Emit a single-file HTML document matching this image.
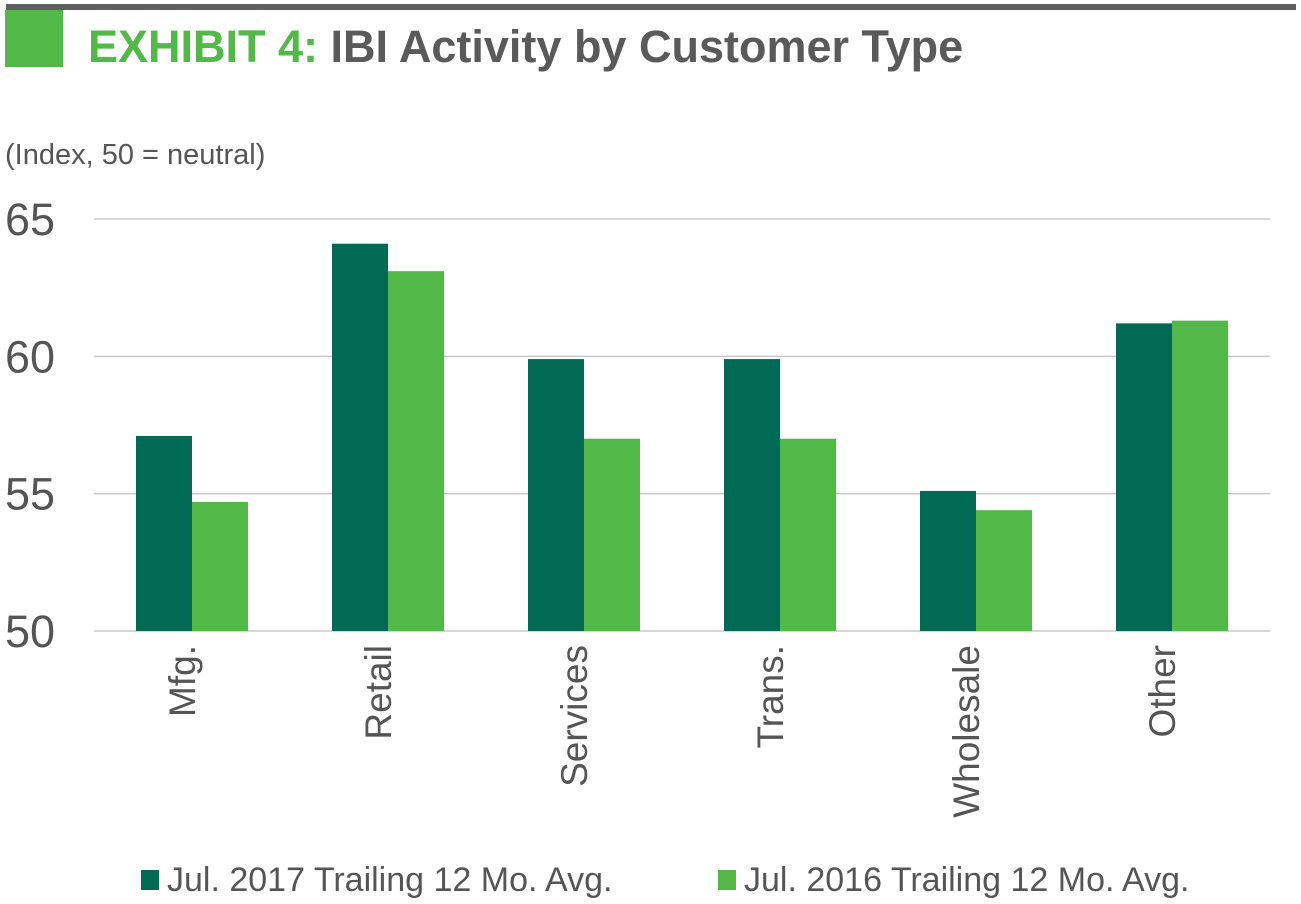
<!DOCTYPE html>
<html><head><meta charset="utf-8"><style>
html,body{margin:0;padding:0;background:#fff;}
svg{display:block;font-family:"Liberation Sans",Arial,sans-serif;}
</style></head><body>
<svg width="1301" height="904" viewBox="0 0 1301 904">
<rect x="6" y="4" width="1290" height="6" fill="#5f5f5f"/>
<rect x="5" y="10" width="58" height="57" fill="#52b848"/>
<text x="88" y="62" font-size="45" font-weight="bold" fill="#5a5a5a"><tspan fill="#52b848">EXHIBIT 4:</tspan> IBI Activity by Customer Type</text>
<text x="5" y="164" font-size="29" fill="#555">(Index, 50 = neutral)</text>
<g id="grid"></g>
<g id="bars"></g>
<g id="xlabels"></g>
<g>
<rect x="141" y="870" width="18" height="20" fill="#006a55"/>
<text x="167" y="891" font-size="34" fill="#555">Jul. 2017 Trailing 12 Mo. Avg.</text>
<rect x="718" y="870" width="18" height="20" fill="#52b848"/>
<text x="744" y="891" font-size="34" fill="#555">Jul. 2016 Trailing 12 Mo. Avg.</text>
</g>
</svg>
<script>
const categories=["Mfg.","Retail","Services","Trans.","Wholesale","Other"];
const series2017=[57.1,64.1,59.9,59.9,55.1,61.2];
const series2016=[54.7,63.1,57.0,57.0,54.4,61.3];
const yTicks=[50,55,60,65];
const NS="http://www.w3.org/2000/svg";
const x0=94,x1=1270,yMin=50,yMax=65,yTop=219,yBot=631;
const y=v=>yBot-(v-yMin)/(yMax-yMin)*(yBot-yTop);
const band=(x1-x0)/categories.length;
const cx=i=>x0+band*(i+0.5);
const barW=56;
function mk(t,a){const e=document.createElementNS(NS,t);for(const k in a)e.setAttribute(k,a[k]);return e;}
const grid=document.getElementById('grid');
yTicks.forEach(v=>{
  const l=mk('line',{x1:x0,x2:x1,y1:y(v),y2:y(v),stroke:'#c8c8c8','stroke-width':1.5});
  
  
  grid.appendChild(l);
  const t=mk('text',{x:5,y:y(v)+16,'font-size':45,fill:'#555'});
  t.textContent=v;
  
  
  grid.appendChild(t);
});
const bars=document.getElementById('bars');
categories.forEach((c,i)=>{
  const a=mk('rect',{x:cx(i)-barW,y:y(series2017[i]),width:barW,height:yBot-y(series2017[i]),fill:'#006a55'});
  
  
  bars.appendChild(a);
  const b=mk('rect',{x:cx(i),y:y(series2016[i]),width:barW,height:yBot-y(series2016[i]),fill:'#52b848'});
  
  
  bars.appendChild(b);
  const t=mk('text',{'font-size':37,fill:'#555','text-anchor':'end',transform:`translate(${cx(i)+3},645) rotate(-90)`});
  t.textContent=c;
  
  
  document.getElementById('xlabels').appendChild(t);
});
</script>
</body></html>
